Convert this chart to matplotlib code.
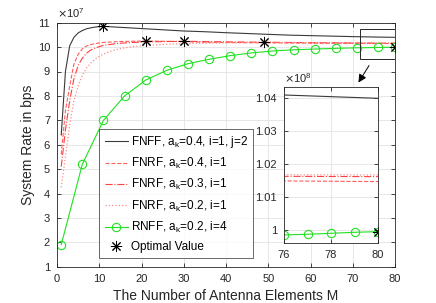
import matplotlib
matplotlib.use("Agg")
import matplotlib.pyplot as plt
from matplotlib.patches import Rectangle

plt.rcParams['font.family'] = ['Liberation Sans', 'DejaVu Sans']

# ---- data (rates in units of 1e7 bps) ----
M_fn = [1, 2, 3, 4, 5, 6, 7, 8, 9, 10, 11, 13, 15, 18, 21, 25, 30, 35, 40, 49, 55, 60, 70, 76, 80]
fnff_04 = [6.4, 9.0, 10.05, 10.4, 10.58, 10.68, 10.75, 10.79, 10.82, 10.84, 10.85, 10.83, 10.81,
           10.78, 10.75, 10.71, 10.66, 10.63, 10.59, 10.53, 10.49, 10.47, 10.43, 10.41, 10.40]
fnrf_04 = [5.6, 7.4, 8.4, 9.3, 9.7, 9.93, 10.05, 10.1, 10.14, 10.17, 10.19, 10.21, 10.23,
           10.24, 10.25, 10.24, 10.22, 10.2, 10.19, 10.175, 10.168, 10.162, 10.155, 10.149, 10.147]
fnrf_03 = [5.1, 6.6, 7.8, 8.7, 9.25, 9.55, 9.75, 9.88, 9.96, 10.02, 10.07, 10.12, 10.16,
           10.19, 10.21, 10.225, 10.24, 10.225, 10.215, 10.2, 10.19, 10.183, 10.17, 10.163, 10.162]
fnrf_02 = [4.25, 5.5, 6.8, 7.8, 8.4, 8.85, 9.15, 9.35, 9.5, 9.62, 9.72, 9.85, 9.94,
           10.02, 10.07, 10.11, 10.14, 10.16, 10.175, 10.19, 10.185, 10.18, 10.172, 10.168, 10.167]
M_g = [1, 6, 11, 16, 21, 26, 31, 36, 41, 46, 51, 56, 61, 66, 71, 76, 77, 78, 79, 80]
rnff_02 = [1.9, 5.2, 7.0, 8.0, 8.65, 9.05, 9.32, 9.5, 9.65, 9.76, 9.84, 9.89, 9.92, 9.95,
           9.97, 9.985, 9.987, 9.99, 9.993, 9.995]
M_opt = [11, 21, 30, 49, 80]
opt_val = [10.85, 10.25, 10.24, 10.19, 9.995]

xticks = [0, 10, 20, 30, 40, 50, 60, 70, 80]
yticks = [1, 2, 3, 4, 5, 6, 7, 8, 9, 10, 11]
in_xticks = [76, 78, 80]
in_yticks = [1.0, 1.01, 1.02, 1.03, 1.04]
in_yticklabels = ['1', '1.01', '1.02', '1.03', '1.04']

labels = ['FNFF, a$_\\mathregular{k}$=0.4, i=1, j=2',
          'FNRF, a$_\\mathregular{k}$=0.4, i=1',
          'FNRF, a$_\\mathregular{k}$=0.3, i=1',
          'FNRF, a$_\\mathregular{k}$=0.2, i=1',
          'RNFF, a$_\\mathregular{k}$=0.2, i=4',
          'Optimal Value']

txt = '#262626'
c_black = '#3a3a3a'
c_dash = '#ff5c5c'
c_dd = '#ff4040'
c_dot = '#ff8a8a'
c_green = '#22e022'
star = (8, 2, 0)

fig = plt.figure(figsize=(4.36, 3.03), dpi=100)
ax = fig.add_axes([57/436, 1-266.7/303, 338/436, 244/303])

main_mark = [i for i, m in enumerate(M_g) if (m - 1) % 5 == 0 or m == 80]

ax.plot(M_fn, fnff_04, '-', color=c_black, lw=0.8, label=labels[0])
ax.plot(M_fn, fnrf_04, '--', color=c_dash, lw=0.8, label=labels[1])
ax.plot(M_fn, fnrf_03, '-.', color=c_dd, lw=0.8, label=labels[2])
ax.plot(M_fn, fnrf_02, ':', color=c_dot, lw=0.9, label=labels[3])
ax.plot(M_g, rnff_02, '-', color=c_green, lw=0.8, marker='o', ms=6, mfc='none',
        mec=c_green, mew=0.8, markevery=main_mark, label=labels[4])
ax.plot(M_opt, opt_val, linestyle='none', marker=star, ms=8, color='k', mew=0.7,
        label=labels[5])

ax.set_xlim(0, 80)
ax.set_ylim(1, 11)
ax.set_xticks(xticks)
ax.set_yticks(yticks)
ax.grid(True, color='#e3e3e3', lw=0.6)
ax.set_axisbelow(True)
ax.tick_params(direction='in', length=3, width=0.6, top=True, right=True,
               labelsize=8, colors=txt, pad=5)
for s in ax.spines.values():
    s.set_color(txt)
    s.set_linewidth(0.6)
ax.set_xlabel('The Number of Antenna Elements M', fontsize=10, color=txt, labelpad=4)
ax.set_ylabel('System Rate in bps', fontsize=10, color=txt)
ax.yaxis.set_label_coords(-0.066, 0.5)
ax.text(0.0, 1.012, '$\\times$10$^\\mathregular{7}$', transform=ax.transAxes,
        fontsize=8, color=txt, ha='left', va='bottom')

leg = ax.legend(loc='lower left', bbox_to_anchor=(0.125, 0.034), borderaxespad=0,
                fontsize=8.5, frameon=True, fancybox=False, edgecolor=txt,
                handlelength=2.0, labelspacing=0.52, handletextpad=0.2, borderpad=0.45)
leg.get_frame().set_linewidth(0.6)
for t in leg.get_texts():
    t.set_color('k')

# zoom rectangle and arrow
ax.add_patch(Rectangle((71.6, 9.5), 8.4, 1.25, fill=False, ec=txt, lw=0.7, zorder=5))
ax.annotate('', xy=(71.0, 8.45), xytext=(74.2, 9.34),
            arrowprops=dict(arrowstyle='-|>', color='k', lw=0.7, mutation_scale=12))

# inset
ia = fig.add_axes([284/436, 1-243/303, 94/436, 156/303])
ia.plot(M_fn, [v / 10 for v in fnff_04], '-', color=c_black, lw=0.8)
ia.plot(M_fn, [v / 10 for v in fnrf_04], '--', color=c_dash, lw=0.8)
ia.plot(M_fn, [v / 10 for v in fnrf_03], '-.', color=c_dd, lw=0.8)
ia.plot(M_fn, [v / 10 for v in fnrf_02], ':', color=c_dot, lw=0.9)
ia.plot(M_g, [v / 10 for v in rnff_02], '-', color=c_green, lw=0.8, marker='o', ms=6,
        mfc='none', mec=c_green, mew=0.8)
ia.plot(M_opt, [v / 10 for v in opt_val], linestyle='none', marker=star, ms=8,
        color='k', mew=0.7)
ia.set_xlim(76, 80)
ia.set_ylim(0.99605, 1.04343)
ia.set_xticks(in_xticks)
ia.set_yticks(in_yticks)
ia.set_yticklabels(in_yticklabels)
ia.grid(True, color='#e3e3e3', lw=0.6)
ia.set_axisbelow(True)
ia.tick_params(direction='in', length=3, width=0.6, top=True, right=True,
               labelsize=8, colors=txt, pad=5)
for s in ia.spines.values():
    s.set_color(txt)
    s.set_linewidth(0.6)
ia.text(0.0, 1.01, '$\\times$10$^\\mathregular{8}$', transform=ia.transAxes,
        fontsize=8, color=txt, ha='left', va='bottom')

fig.savefig('out.png', dpi=100)
